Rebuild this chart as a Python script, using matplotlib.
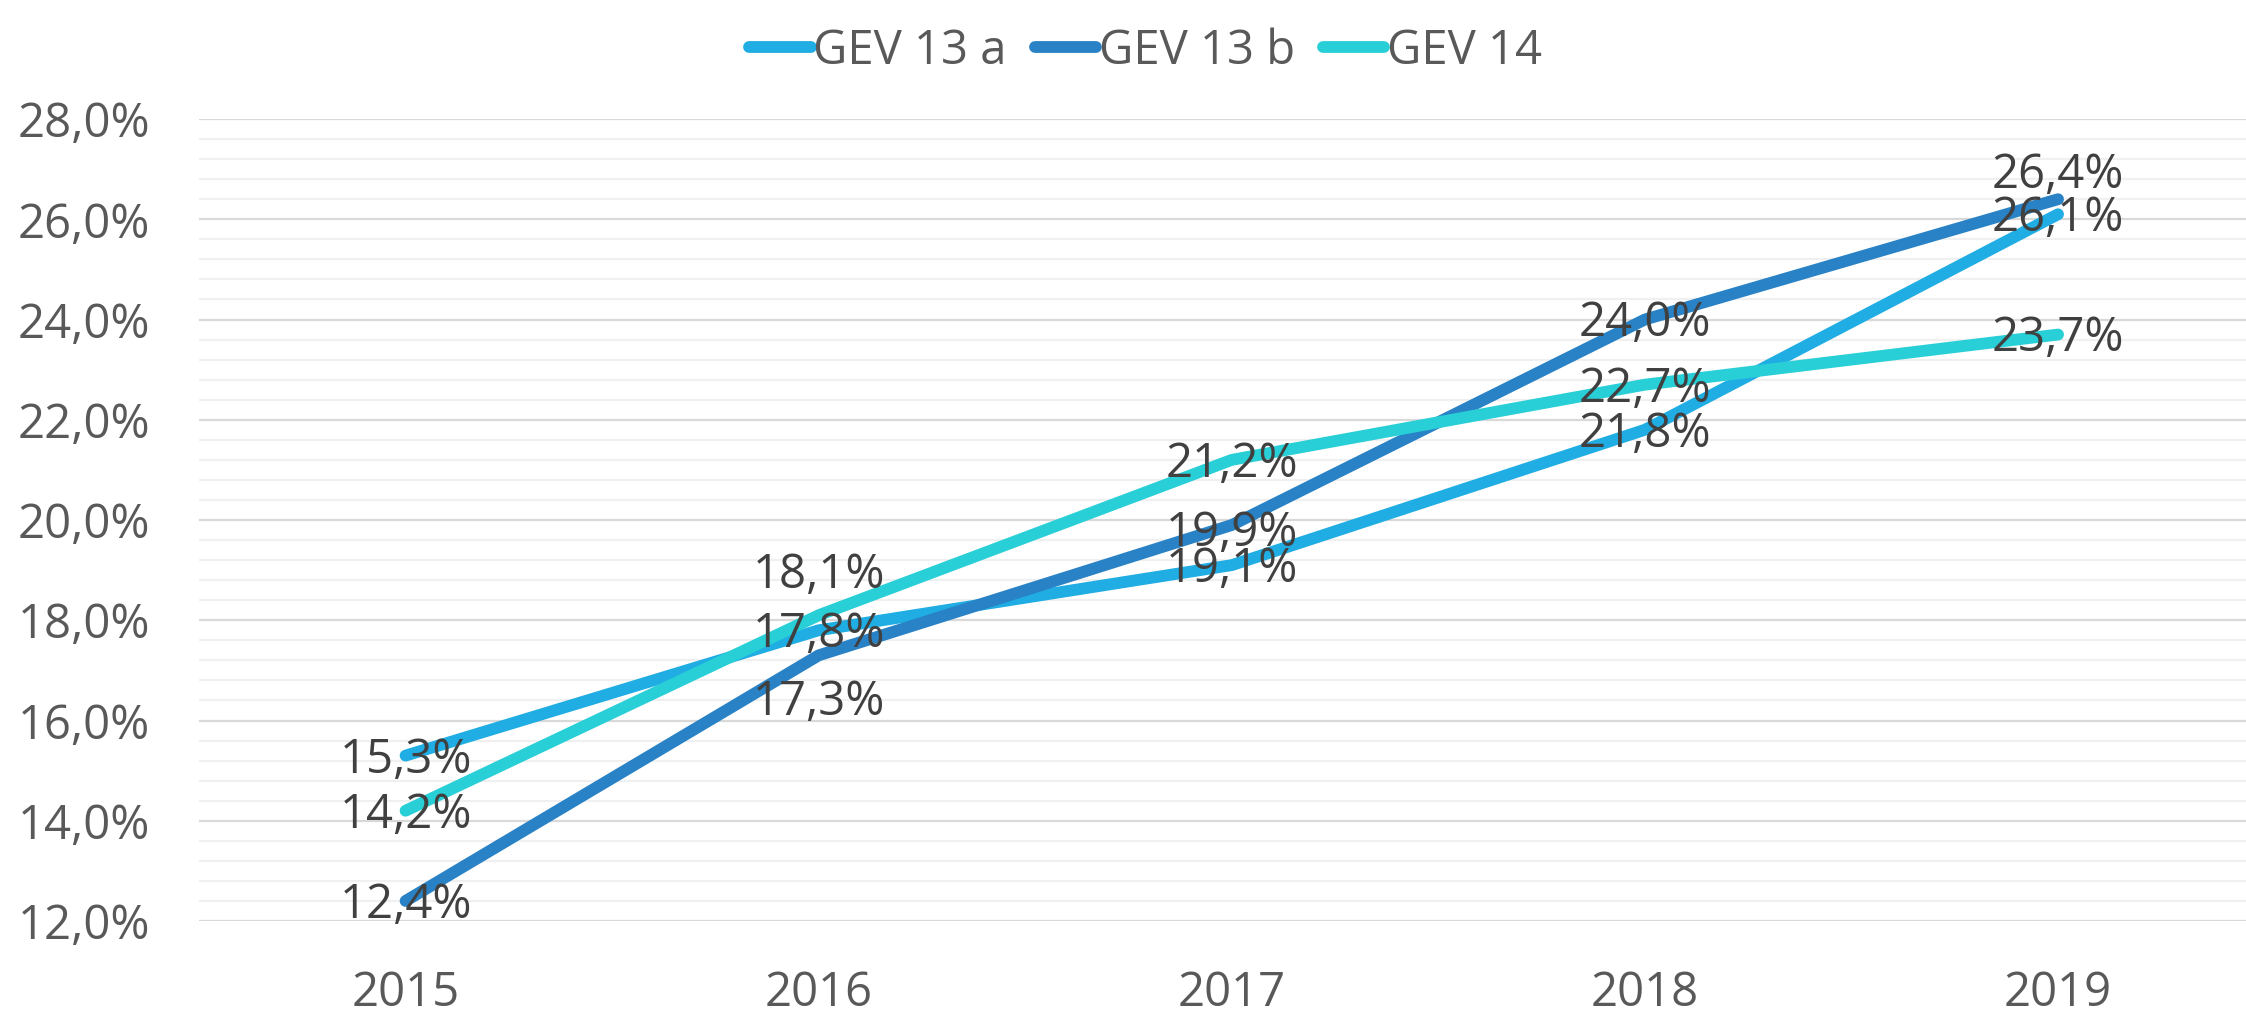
import matplotlib.pyplot as plt
from matplotlib.ticker import MultipleLocator, FuncFormatter

plt.rcParams['font.family'] = ['Open Sans', 'DejaVu Sans']

# data
years = ['2015', '2016', '2017', '2018', '2019']
gev13a = [15.3, 17.8, 19.1, 21.8, 26.1]
gev13b = [12.4, 17.3, 19.9, 24.0, 26.4]
gev14 = [14.2, 18.1, 21.2, 22.7, 23.7]
series_names = ['GEV 13 a', 'GEV 13 b', 'GEV 14']

colors = ['#1fade3', '#2882c5', '#28cfd6']
text_col = '#595959'
label_col = '#404040'

fig = plt.figure(figsize=(22.46, 10.19), dpi=100)
ax = fig.add_axes([199 / 2246, 1 - 921 / 1019, 1 - 199 / 2246, (921 - 119) / 1019])

x = range(len(years))
for vals, name, c in zip([gev13a, gev13b, gev14], series_names, colors):
    ax.plot(x, vals, color=c, lw=8.5, solid_capstyle='round',
            solid_joinstyle='round', label=name, zorder=3)

# data labels: centred on the point, a few moved off it like in Excel
# key = (year index, series index) -> vertical offset in points
label_dy = {(1, 1): -34, (1, 2): 29, (4, 1): 17, (2, 1): -6}
for si, vals in enumerate([gev13a, gev13b, gev14]):
    for i, v in enumerate(vals):
        dy = label_dy.get((i, si), -3)
        ax.annotate(f'{v:.1f}%'.replace('.', ','), (i, v),
                    xytext=(0, dy), textcoords='offset points',
                    ha='center', va='center', fontsize=34,
                    color=label_col, zorder=4)

ax.set_ylim(12, 28)
ax.set_xlim(-0.5, (2246 - 405) / 413.25)
ax.yaxis.set_major_locator(MultipleLocator(2))
ax.yaxis.set_minor_locator(MultipleLocator(0.4))
ax.yaxis.set_major_formatter(FuncFormatter(lambda v, p: f'{v:.1f}%'.replace('.', ',')))
ax.set_xticks(list(x))
ax.set_xticklabels(years)

ax.grid(axis='y', which='major', color='#d9d9d9', lw=1.6, zorder=0)
ax.grid(axis='y', which='minor', color='#f0f0f0', lw=1.6, zorder=0)
for s in ax.spines.values():
    s.set_visible(False)
ax.tick_params(axis='both', which='both', length=0, labelsize=34, colors=text_col)
ax.tick_params(axis='y', pad=35)
ax.tick_params(axis='x', pad=35)

fig.legend(loc='upper center', bbox_to_anchor=(0.51, 1.015), ncol=3, frameon=False,
           fontsize=34, handlelength=1.3, handletextpad=0.05, columnspacing=0.6,
           labelcolor=text_col)

fig.savefig('out.png', dpi=100, facecolor='white')
